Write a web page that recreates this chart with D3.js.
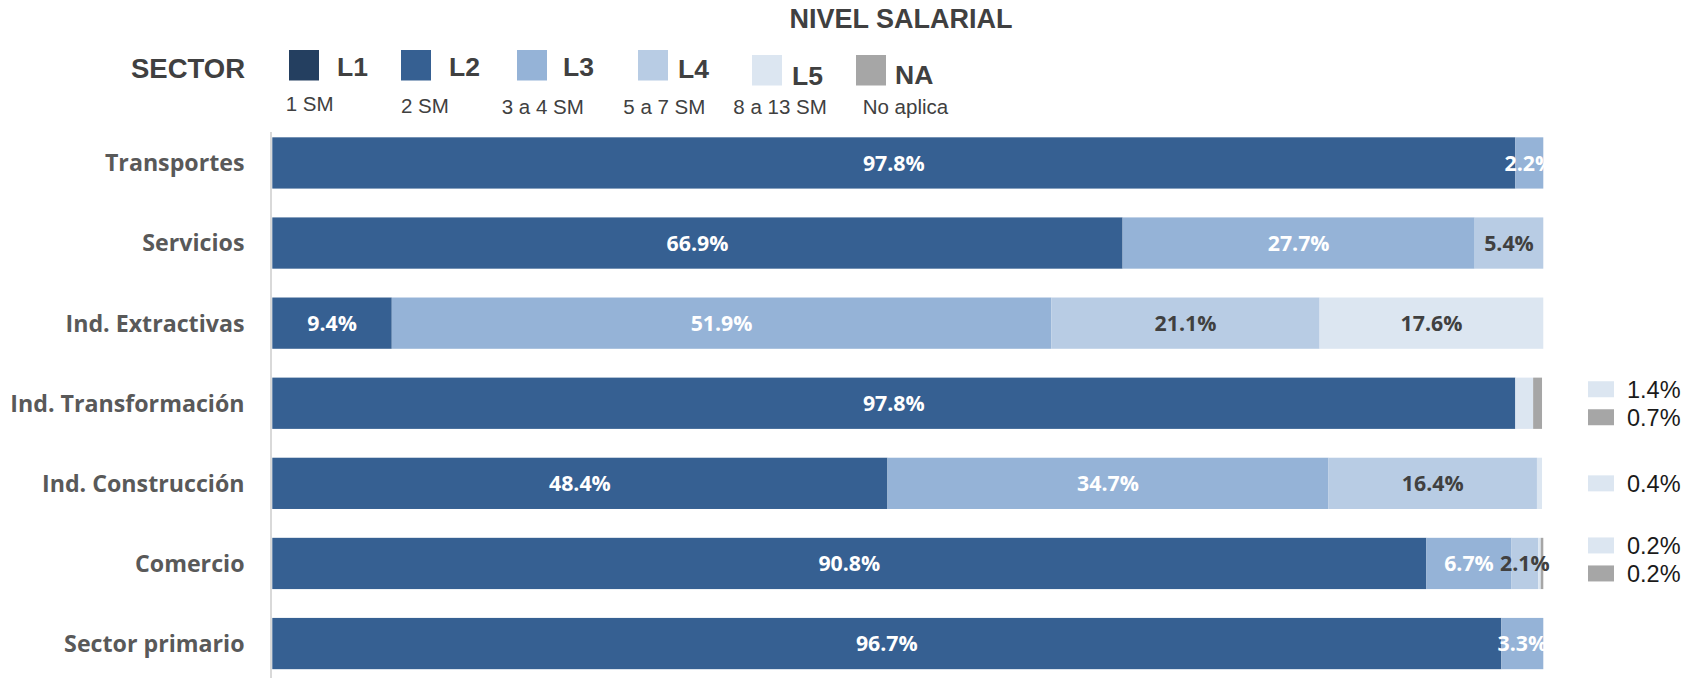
<!DOCTYPE html>
<html>
<head>
<meta charset="utf-8">
<script src="https://cdn.jsdelivr.net/npm/d3@7"></script>
<style>
  body { margin: 0; background: #fff; }
  svg { display: block; }
</style>
</head>
<body>
<div id="chart"></div>
<script>
// data
const sectors = ["Transportes", "Servicios", "Ind. Extractivas", "Ind. Transformación", "Ind. Construcción", "Comercio", "Sector primario"];
const levels = ["L1", "L2", "L3", "L4", "L5", "NA"];
const levelNotes = ["1 SM", "2 SM", "3 a 4 SM", "5 a 7 SM", "8 a 13 SM", "No aplica"];
const levelColors = ["#243f60", "#366092", "#95b3d7", "#b8cce4", "#dce6f1", "#a6a6a6"];

const L1 = [0, 0, 0, 0, 0, 0, 0];
const L2 = [97.8, 66.9, 9.4, 97.8, 48.4, 90.8, 96.7];
const L3 = [2.2, 27.7, 51.9, 0, 34.7, 6.7, 3.3];
const L4 = [0, 5.4, 21.1, 0, 16.4, 2.1, 0];
const L5 = [0, 0, 17.6, 1.4, 0.4, 0.2, 0];
const NA = [0, 0, 0, 0.7, 0, 0.2, 0];

const series = [L1, L2, L3, L4, L5, NA];

const width = 1698, height = 678;
const svg = d3.select("#chart").append("svg")
  .attr("width", width)
  .attr("height", height);

const x = d3.scaleLinear().domain([0, 100]).range([272.3, 1543.3]);
const y = d3.scaleBand().domain(sectors).range([122.9, 683.6]).paddingInner(0.36).paddingOuter(0.18);
const color = d3.scaleOrdinal().domain(levels).range(levelColors);

// stack rows
const rows = sectors.map((s, i) => {
  const r = { sector: s };
  levels.forEach((l, j) => r[l] = series[j][i]);
  return r;
});
const stacked = d3.stack().keys(levels)(rows);

// title
svg.append("text")
  .attr("x", 901).attr("y", 27.5)
  .attr("text-anchor", "middle")
  .style("font-family", "'Liberation Sans', Arial, sans-serif")
  .style("font-weight", "bold")
  .style("font-size", "27px")
  .style("fill", "#404040")
  .text("NIVEL SALARIAL");

svg.append("text")
  .attr("x", 131).attr("y", 77.5)
  .style("font-family", "'Liberation Sans', Arial, sans-serif")
  .style("font-weight", "bold")
  .style("font-size", "27.5px")
  .style("fill", "#404040")
  .text("SECTOR");

// legend (hand placed like the original)
const legSqX = [289, 401, 517, 638, 752, 856];
const legSqY = [50, 50, 50, 50, 55, 55];
const legTxX = [337, 449, 563, 678, 792, 895];
const legTxY = [76, 76, 75.5, 78, 85, 84];
const legNoteX = [285.7, 401, 501.7, 623.3, 733.3, 862.7];
const legNoteY = [111, 113, 114, 114, 114, 114];

const legend = svg.append("g").attr("class", "legend");
levels.forEach((l, i) => {
  legend.append("rect")
    .attr("x", legSqX[i]).attr("y", legSqY[i])
    .attr("width", 30).attr("height", 30.5)
    .attr("fill", color(l));
  legend.append("text")
    .attr("x", legTxX[i]).attr("y", legTxY[i])
    .style("font-family", "'Liberation Sans', Arial, sans-serif")
    .style("font-weight", "bold")
    .style("font-size", "26.5px")
    .style("fill", "#404040")
    .text(l);
  legend.append("text")
    .attr("x", legNoteX[i]).attr("y", legNoteY[i])
    .style("font-family", "'Liberation Sans', Arial, sans-serif")
    .style("font-size", "20.5px")
    .style("fill", "#404040")
    .text(levelNotes[i]);
});

// axis line
svg.append("line")
  .attr("x1", 271).attr("x2", 271)
  .attr("y1", 132).attr("y2", height)
  .attr("stroke", "#d9d9d9")
  .attr("stroke-width", 2);

// category labels
svg.append("g").selectAll("text")
  .data(sectors)
  .join("text")
  .attr("x", 244.5)
  .attr("y", d => y(d) + y.bandwidth() / 2)
  .attr("dy", "0.36em")
  .attr("text-anchor", "end")
  .style("font-family", "'Open Sans', sans-serif")
  .style("font-weight", "bold")
  .style("font-size", "23.2px")
  .style("fill", "#595959")
  .text(d => d);

// bars
const layer = svg.append("g").selectAll("g")
  .data(stacked)
  .join("g")
  .attr("fill", d => color(d.key));

layer.selectAll("rect")
  .data(d => d)
  .join("rect")
  .attr("x", d => x(d[0]))
  .attr("y", d => y(d.data.sector))
  .attr("width", d => x(d[1]) - x(d[0]))
  .attr("height", y.bandwidth());

// in-bar labels
const fmt = v => d3.format(".1f")(v) + "%";
const darkText = ["L4", "L5", "NA"];
stacked.forEach(s => {
  svg.append("g").selectAll("text")
    .data(s.filter(d => d[1] - d[0] >= 2))
    .join("text")
    .attr("x", d => (x(d[0]) + x(d[1])) / 2)
    .attr("y", d => y(d.data.sector) + y.bandwidth() / 2)
    .attr("dy", "0.36em")
    .attr("text-anchor", "middle")
    .style("font-family", "'Open Sans', sans-serif")
    .style("font-weight", "bold")
    .style("font-size", "21.3px")
    .style("fill", darkText.includes(s.key) ? "#404040" : "#ffffff")
    .text(d => fmt(d[1] - d[0]));
});

// small segments annotated on the right
const side = svg.append("g");
sectors.forEach((sec, i) => {
  const small = levels
    .map((l, j) => ({ key: l, v: series[j][i] }))
    .filter(d => d.v > 0 && d.v < 2);
  const cy = y(sec) + y.bandwidth() / 2 - (small.length > 1 && i > 4 ? 4 : 0);
  small.forEach((d, k) => {
    const yy = cy + (k - (small.length - 1) / 2) * 28;
    side.append("rect")
      .attr("x", 1588).attr("y", yy - 8)
      .attr("width", 26).attr("height", 16)
      .attr("fill", color(d.key));
    side.append("text")
      .attr("x", 1627).attr("y", yy)
      .attr("dy", "0.36em")
      .style("font-family", "'Liberation Sans', Arial, sans-serif")
      .style("font-size", "23.5px")
      .style("fill", "#1a1a1a")
      .text(fmt(d.v));
  });
});
</script>
</body>
</html>
